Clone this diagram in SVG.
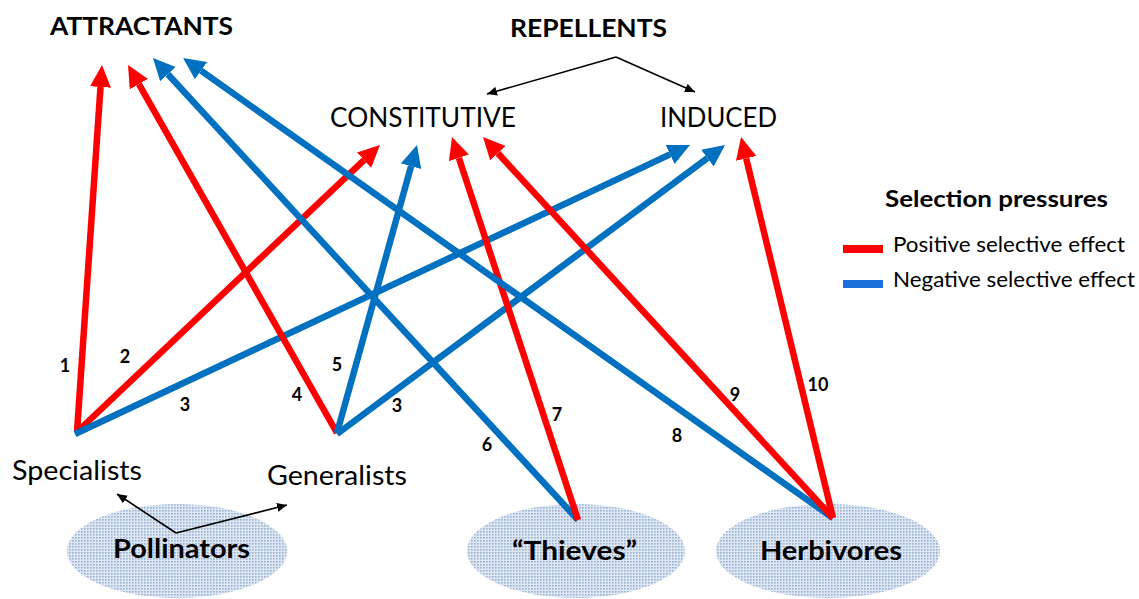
<svg xmlns="http://www.w3.org/2000/svg" width="1139" height="599" viewBox="0 0 1139 599">
<style>
text{font-family:Lato,"Open Sans","Liberation Sans",sans-serif;fill:#000}
.b{font-weight:bold}
.num{font-weight:bold;font-size:18px;text-anchor:middle}
.red{stroke:#ff0000;stroke-width:6.5;fill:none}
.blue{stroke:#0070c0;stroke-width:6.5;fill:none}
.thin{stroke:#000;stroke-width:1.6;fill:none}
.blob{fill:url(#dots)}
</style>
<defs>
<pattern id="dots" width="3" height="3" patternUnits="userSpaceOnUse">
<rect width="3" height="3" fill="#dfe7f3"/>
<rect width="1.6" height="1.6" fill="#98b0d6"/>
</pattern>
<marker id="hr" viewBox="0 -11 22 22" refX="0" refY="0" markerWidth="22" markerHeight="22" markerUnits="userSpaceOnUse" orient="auto">
<path d="M0,-10.5 L22,0 L0,10.5 z" fill="#ff0000"/>
</marker>
<marker id="hb" viewBox="0 -11 22 22" refX="0" refY="0" markerWidth="22" markerHeight="22" markerUnits="userSpaceOnUse" orient="auto">
<path d="M0,-10.5 L22,0 L0,10.5 z" fill="#0070c0"/>
</marker>
<marker id="hk" viewBox="0 -5 10 10" refX="10" refY="0" markerWidth="10" markerHeight="10" markerUnits="userSpaceOnUse" orient="auto">
<path d="M0,-4.5 L10,0 L0,4.5 z" fill="#000"/>
</marker>
</defs>
<rect width="1139" height="599" fill="#fff"/>

<g id="pollinators">
<ellipse class="blob" cx="177" cy="551" rx="110" ry="47"/>
<text class="b" x="113" y="558" font-size="27" textLength="137" lengthAdjust="spacingAndGlyphs">Pollinators</text>
</g>
<g id="thieves">
<ellipse class="blob" cx="576" cy="551" rx="109" ry="47"/>
<text class="b" x="512" y="560" font-size="27" textLength="125" lengthAdjust="spacingAndGlyphs">“Thieves”</text>
</g>
<g id="herbivores">
<ellipse class="blob" cx="828" cy="551" rx="112" ry="47"/>
<text class="b" x="760" y="560" font-size="27" textLength="142" lengthAdjust="spacingAndGlyphs">Herbivores</text>
</g>
<g id="specialists"><text x="12" y="480" font-size="27" textLength="130" lengthAdjust="spacingAndGlyphs">Specialists</text></g>
<g id="generalists"><text x="267" y="485" font-size="27" textLength="140" lengthAdjust="spacingAndGlyphs">Generalists</text></g>
<g id="attractants"><text class="b" x="50" y="35" font-size="24" textLength="183" lengthAdjust="spacingAndGlyphs">ATTRACTANTS</text></g>
<g id="repellents"><text class="b" x="510" y="37" font-size="24" textLength="157" lengthAdjust="spacingAndGlyphs">REPELLENTS</text></g>
<g id="constitutive"><text x="330" y="127" font-size="27" textLength="186" lengthAdjust="spacingAndGlyphs">CONSTITUTIVE</text></g>
<g id="induced"><text x="660" y="127" font-size="27" textLength="117" lengthAdjust="spacingAndGlyphs">INDUCED</text></g>

<g id="legend">
<text class="b" x="885" y="207" font-size="23" textLength="223" lengthAdjust="spacingAndGlyphs">Selection pressures</text>
<rect x="843" y="245" width="40" height="8" fill="#ff0000"/>
<text x="893" y="252" font-size="21" textLength="232" lengthAdjust="spacingAndGlyphs">Positive selective effect</text>
<rect x="843" y="280" width="40" height="8" fill="#1a6fdc"/>
<text x="893" y="287" font-size="21" textLength="242" lengthAdjust="spacingAndGlyphs">Negative selective effect</text>
</g>

<g id="connectors">
<path class="thin" d="M616,57 L487,94" marker-end="url(#hk)"/>
<path class="thin" d="M616,57 L695,92" marker-end="url(#hk)"/>
<path class="thin" d="M176,533 L117,494" marker-end="url(#hk)"/>
<path class="thin" d="M176,533 L287,505" marker-end="url(#hk)"/>

<path class="red" d="M77,432 L100.5,87" marker-end="url(#hr)"/>
<path class="red" d="M77,432 L364,160.1" marker-end="url(#hr)"/>
<path class="blue" d="M75,434 L670.1,154.4" marker-end="url(#hb)"/>
<path class="red" d="M337,433 L138.9,84.1" marker-end="url(#hr)"/>
<path class="blue" d="M337,433 L411.1,166.2" marker-end="url(#hb)"/>
<path class="blue" d="M337,434 L707.4,158.1" marker-end="url(#hb)"/>
<path class="blue" d="M578,520 L167.9,74.2" marker-end="url(#hb)"/>
<path class="red" d="M578,520 L458.9,157.9" marker-end="url(#hr)"/>
<path class="blue" d="M833,518 L201,70.7" marker-end="url(#hb)"/>
<path class="red" d="M833,518 L497.9,153.2" marker-end="url(#hr)"/>
<path class="red" d="M833,518 L746.2,158.4" marker-end="url(#hr)"/>

<text class="num" x="65" y="372">1</text>
<text class="num" x="125" y="363">2</text>
<text class="num" x="185" y="411">3</text>
<text class="num" x="297" y="401">4</text>
<text class="num" x="337" y="371">5</text>
<text class="num" x="397" y="412">3</text>
<text class="num" x="487" y="451">6</text>
<text class="num" x="557" y="421">7</text>
<text class="num" x="677" y="442">8</text>
<text class="num" x="735" y="401">9</text>
<text class="num" x="818" y="391">10</text>
</g>
</svg>
